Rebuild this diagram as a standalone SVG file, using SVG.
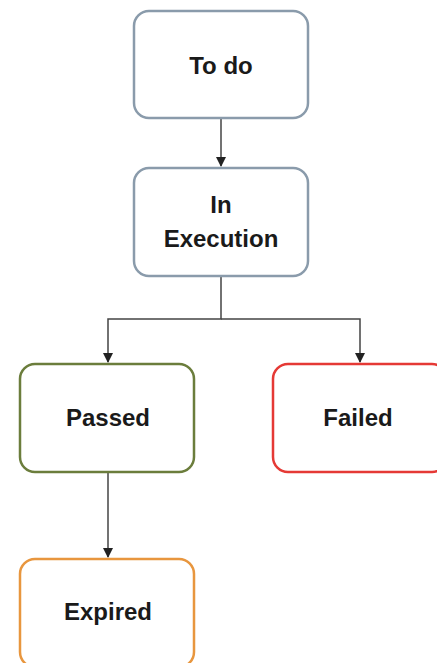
<svg xmlns="http://www.w3.org/2000/svg" width="437" height="663" viewBox="0 0 437 663">
<defs>
<marker id="arr" markerWidth="10" markerHeight="10" refX="9" refY="5" orient="auto" markerUnits="userSpaceOnUse">
<path d="M0,0 L10,5 L0,10 Z" fill="#222"/>
</marker>
<style>
.box{fill:#fff;stroke-width:2.5}
.t{font-family:"Liberation Sans",Arial,sans-serif;font-weight:bold;font-size:24px;fill:#1a1a1a;text-anchor:middle}
.c{fill:none;stroke:#444;stroke-width:1.5}
</style>
</defs>
<rect width="437" height="663" fill="#fff"/>
<g id="connectors">
<path class="c" d="M221,118 V166" marker-end="url(#arr)"/>
<path class="c" d="M221,277 V319 H108 V362" marker-end="url(#arr)"/>
<path class="c" d="M221,319 H360 V362" marker-end="url(#arr)"/>
<path class="c" d="M108,473 V557" marker-end="url(#arr)"/>
</g>
<g id="todo"><rect class="box" x="134" y="11" width="174" height="107" rx="15" stroke="#8a9bab"/><text class="t" x="221" y="74">To do</text></g>
<g id="inexecution"><rect class="box" x="134" y="168" width="174" height="108" rx="15" stroke="#8a9bab"/><text class="t" x="221" y="213">In</text><text class="t" x="221" y="247">Execution</text></g>
<g id="passed"><rect class="box" x="20" y="364" width="174" height="108" rx="15" stroke="#6b7d3c"/><text class="t" x="108" y="426">Passed</text></g>
<g id="failed"><rect class="box" x="273" y="364" width="174" height="108" rx="15" stroke="#e53935"/><text class="t" x="358" y="426">Failed</text></g>
<g id="expired"><rect class="box" x="20" y="559" width="174" height="108" rx="15" stroke="#e8963e"/><text class="t" x="108" y="620">Expired</text></g>
</svg>
